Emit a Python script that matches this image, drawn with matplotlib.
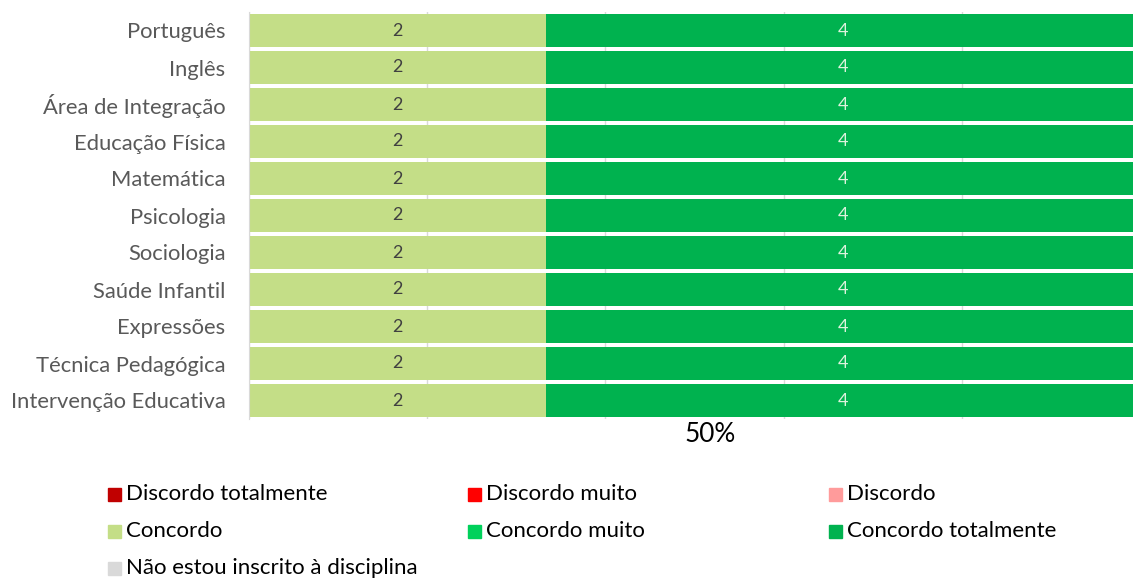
import numpy as np
import matplotlib
matplotlib.use("Agg")
import matplotlib.pyplot as plt
from matplotlib.patches import Rectangle

# data
subjects = ["Português", "Inglês", "Área de Integração", "Educação Física",
            "Matemática", "Psicologia", "Sociologia", "Saúde Infantil",
            "Expressões", "Técnica Pedagógica", "Intervenção Educativa"]
series_names = ["Discordo totalmente", "Discordo muito", "Discordo",
                "Concordo", "Concordo muito", "Concordo totalmente",
                "Não estou inscrito à disciplina"]
discordo_totalmente = [0] * 11
discordo_muito = [0] * 11
discordo = [0] * 11
concordo = [2] * 11
concordo_muito = [0] * 11
concordo_totalmente = [4] * 11
nao_inscrito = [0] * 11
axis_title = "50%"

colors = ["#C00000", "#FF0000", "#FF9B9B", "#C4DE87", "#00D15B", "#00B24F", "#D9D9D9"]
label_colors = ["white", "white", "#404040", "#404040", "white", "#DDF2DD", "#404040"]

counts = np.array([discordo_totalmente, discordo_muito, discordo, concordo,
                   concordo_muito, concordo_totalmente, nao_inscrito], dtype=float)
totals = counts.sum(axis=0)
shares = counts / totals

FONT = "Lato"
W, H = 1133, 578
fig = plt.figure(figsize=(W / 100, H / 100), dpi=100)
ax = fig.add_axes([249 / W, 1 - 419 / H, (1140 - 249) / W, (419 - 12) / H])

y = np.arange(len(subjects))
left = np.zeros(len(subjects))
for i, name in enumerate(series_names):
    bars = ax.barh(y, shares[i], left=left, height=0.9, color=colors[i],
                   label=name, zorder=2)
    for j, b in enumerate(bars):
        if counts[i, j] > 0:
            ax.text(b.get_x() + b.get_width() / 2, b.get_y() + b.get_height() / 2,
                    f"{int(counts[i, j])}", ha="center", va="center",
                    fontsize=13, color=label_colors[i], family=FONT, zorder=3)
    left += shares[i]

ax.set_xlim(0, 1)
ax.set_ylim(len(subjects) - 0.5, -0.5)
ax.set_xticks(np.arange(0, 1.01, 0.2))
ax.set_xticklabels([])
ax.grid(axis="x", color="#D9D9D9", linewidth=1, zorder=0)
ax.tick_params(axis="both", length=0)
ax.tick_params(axis="y", pad=17, labelsize=15.8, labelcolor="#595959")
ax.set_yticks(y)
ax.set_yticklabels(subjects, family=FONT)
for s in ["top", "right", "bottom"]:
    ax.spines[s].set_visible(False)
ax.spines["left"].set_color("#D9D9D9")

fig.text(710 / W, 1 - 434 / H, axis_title, ha="center", va="center",
         fontsize=18.8, color="black", family=FONT)

# legend, three columns
col_x = [108, 468, 829]
row_y = [494, 531, 568]
for i, name in enumerate(series_names):
    cx = col_x[i % 3]
    cy = row_y[i // 3]
    fig.patches.append(Rectangle((cx / W, 1 - (cy + 7) / H), 13 / W, 13 / H,
                                 transform=fig.transFigure, color=colors[i]))
    fig.text((cx + 18) / W, 1 - cy / H, name, ha="left", va="center",
             fontsize=16, color="black", family=FONT)

fig.savefig("out.png", dpi=100)
